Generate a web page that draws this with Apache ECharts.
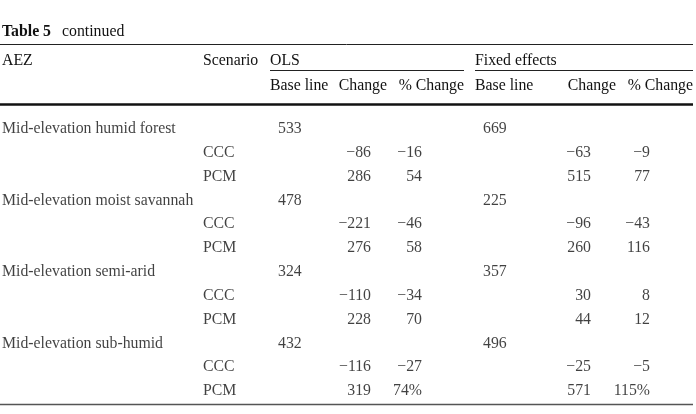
<!DOCTYPE html>
<html>
<head>
<meta charset="utf-8">
<script src="https://cdn.jsdelivr.net/npm/echarts@6/dist/echarts.min.js"></script>
<style>
html,body{margin:0;padding:0;background:#fff;}
#main{width:696px;height:414px;}
</style>
</head>
<body>
<div id="main"></div>
<script>
// ---- Data ----
const tableTitle = 'Table 5';
const tableSubtitle = 'continued';
const headerTop = ['AEZ', 'Scenario', 'OLS', 'Fixed effects'];
const headerSub = ['Base line', 'Change', '% Change', 'Base line', 'Change', '% Change'];
const aezNames = ['Mid-elevation humid forest', 'Mid-elevation moist savannah', 'Mid-elevation semi-arid', 'Mid-elevation sub-humid'];
const scenarios = ['CCC', 'PCM'];
const olsBase = [533, 478, 324, 432];
const olsChangeCCC = [-86, -221, -110, -116];
const olsChangePCM = [286, 276, 228, 319];
const olsPctCCC = [-16, -46, -34, -27];
const olsPctPCM = [54, 58, 70, 74];
const feBase = [669, 225, 357, 496];
const feChangeCCC = [-63, -96, 30, -25];
const feChangePCM = [515, 260, 44, 571];
const fePctCCC = [-9, -43, 8, -5];
const fePctPCM = [77, 116, 12, 115];
const pctSuffixRows = [11]; // rows whose % values carry a "%" sign

// ---- Build rows ----
const nRows = aezNames.length * 3;
const rowIdx = Array.from({length: nRows}, (_, i) => String(i));
function fmtNum(v) { return v < 0 ? '\u2212' + Math.abs(v) : String(v); }

// Column anchors (layout) in px along x axis (0..696)
const COL = {aez: 2, scen: 203, olsBase: 278, olsChg: 371, olsPct: 422, feBase: 483, feChg: 591, fePct: 650};

const aezData = [], scenData = [], olsBaseData = [], olsChgData = [], olsPctData = [], feBaseData = [], feChgData = [], fePctData = [];
aezNames.forEach((name, i) => {
  const r0 = 3 * i;
  aezData.push({value: [COL.aez, String(r0)], txt: name});
  olsBaseData.push({value: [COL.olsBase, String(r0)], txt: fmtNum(olsBase[i])});
  feBaseData.push({value: [COL.feBase, String(r0)], txt: fmtNum(feBase[i])});
  const chg = [[olsChangeCCC[i], olsPctCCC[i], feChangeCCC[i], fePctCCC[i]], [olsChangePCM[i], olsPctPCM[i], feChangePCM[i], fePctPCM[i]]];
  scenarios.forEach((s, k) => {
    const r = String(r0 + 1 + k);
    const suf = pctSuffixRows.indexOf(r0 + 1 + k) >= 0 ? '%' : '';
    scenData.push({value: [COL.scen, r], txt: s});
    olsChgData.push({value: [COL.olsChg, r], txt: fmtNum(chg[k][0])});
    olsPctData.push({value: [COL.olsPct, r], txt: fmtNum(chg[k][1]) + suf});
    feChgData.push({value: [COL.feChg, r], txt: fmtNum(chg[k][2])});
    fePctData.push({value: [COL.fePct, r], txt: fmtNum(chg[k][3]) + suf});
  });
});

const FONT = '"Liberation Serif", "Times New Roman", serif';
const FS = 15.8;
const TXT = '#111';

function textSeries(data, align) {
  return {
    type: 'scatter', data: data, symbolSize: 0, silent: true,
    label: {
      show: true, position: align === 'left' ? 'right' : 'left', distance: 0,
      formatter: p => p.data.txt,
      fontFamily: FONT, fontSize: FS, color: TXT
    }
  };
}

function hline(x1, x2, y, w, c) {
  return {type: 'line', shape: {x1: x1, y1: y, x2: x2, y2: y}, style: {stroke: c || '#222', lineWidth: w}, silent: true};
}
function htext(x, y, t, extra) {
  return {type: 'text', x: x, y: y, style: Object.assign({text: t, font: FS + 'px ' + FONT, fill: TXT, textVerticalAlign: 'middle'}, extra || {}), silent: true};
}

const chart = echarts.init(document.getElementById('main'), null, {renderer: 'canvas'});
chart.setOption({
  animation: false,
  backgroundColor: '#fff',
  grid: {left: 0, right: 0, top: 117, height: 286},
  xAxis: {type: 'value', min: 0, max: 696, show: false},
  yAxis: {type: 'category', data: rowIdx, inverse: true, show: false},
  series: [
    textSeries(aezData, 'left'),
    textSeries(scenData, 'left'),
    textSeries(olsBaseData, 'left'),
    textSeries(olsChgData, 'right'),
    textSeries(olsPctData, 'right'),
    textSeries(feBaseData, 'left'),
    textSeries(feChgData, 'right'),
    textSeries(fePctData, 'right')
  ],
  graphic: [
    {type: 'text', x: 2, y: 32, silent: true, style: {text: tableTitle, font: 'bold ' + FS + 'px ' + FONT, fill: TXT, textVerticalAlign: 'middle'}},
    htext(62, 32, tableSubtitle),
    hline(0, 693, 44.5, 1),
    htext(2, 61, headerTop[0]),
    htext(203, 61, headerTop[1]),
    htext(270, 61, headerTop[2]),
    htext(475, 61, headerTop[3]),
    hline(270, 464, 70.5, 1),
    hline(475, 693, 70.5, 1),
    htext(270, 86, headerSub[0]),
    htext(387, 86, headerSub[1], {textAlign: 'right'}),
    htext(464, 86, headerSub[2], {textAlign: 'right'}),
    htext(475, 86, headerSub[3]),
    htext(616, 86, headerSub[4], {textAlign: 'right'}),
    htext(693, 86, headerSub[5], {textAlign: 'right'}),
    hline(0, 693, 104.5, 2.5, '#111'),
    hline(0, 693, 404.5, 1.5, '#555')
  ]
});
</script>
</body>
</html>
